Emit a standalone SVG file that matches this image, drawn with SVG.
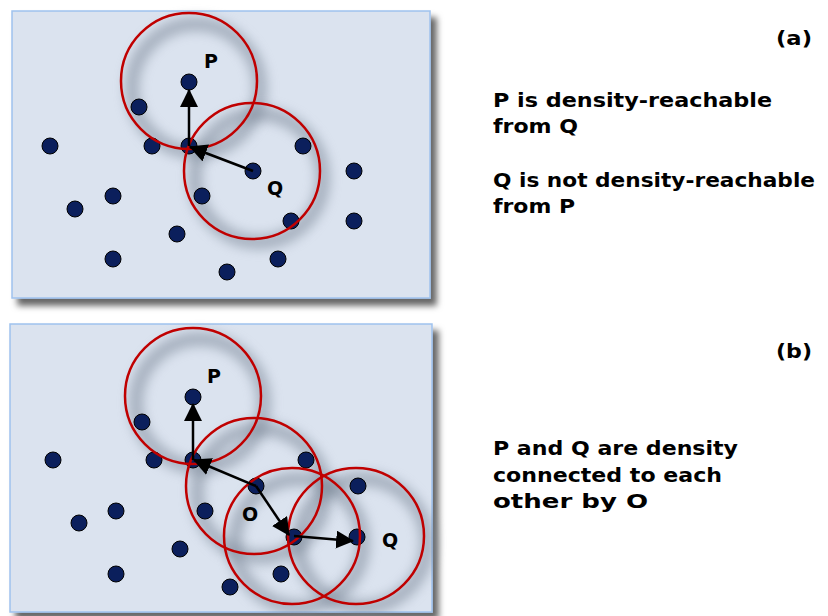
<svg xmlns="http://www.w3.org/2000/svg" width="828" height="616" viewBox="0 0 828 616">
<defs>
<filter id="panelShadow" x="-10%" y="-10%" width="125%" height="130%">
<feDropShadow dx="6" dy="7" stdDeviation="3" flood-color="#000" flood-opacity="0.6"/>
</filter>
<filter id="haze" x="-40%" y="-40%" width="180%" height="180%">
<feGaussianBlur stdDeviation="6"/>
</filter>
<marker id="ah" markerUnits="userSpaceOnUse" markerWidth="18" markerHeight="18" viewBox="0 0 16 16" refX="15" refY="8" orient="auto">
<path d="M0,0 L16,8 L0,16 z" fill="#000"/>
</marker>
<style>
.panel{fill:#dbe3ef;stroke:#9fc2ee;stroke-width:1.5;filter:url(#panelShadow)}
.dot{fill:#0b1f5c;stroke:#000;stroke-width:1}
.ring{fill:none;stroke:#c00000;stroke-width:2.5}
.hz{fill:none;stroke:#7a8696;stroke-width:14;opacity:0.55;filter:url(#haze)}
.arr{stroke:#000;stroke-width:2.5;fill:none;marker-end:url(#ah)}
.lbl{font-family:"DejaVu Sans","Verdana",sans-serif;font-weight:bold;font-size:19px;fill:#000}
.txt{font-family:"DejaVu Sans","Verdana",sans-serif;font-weight:bold;font-size:20px;fill:#000}
</style>
</defs>

<g id="panel-a">
<rect class="panel" x="12" y="11" width="418" height="287"/>
</g>
<g id="panel-b">
<rect class="panel" x="10" y="324" width="422" height="288"/>
</g>

<g id="haze-a">
<circle class="hz" cx="196" cy="88" r="64"/>
<circle class="hz" cx="259" cy="178" r="64"/>
</g>
<g id="haze-b">
<circle class="hz" cx="200" cy="403" r="64"/>
<circle class="hz" cx="261" cy="493" r="64"/>
<circle class="hz" cx="299" cy="543" r="64"/>
<circle class="hz" cx="363" cy="543" r="64"/>
</g>

<g id="points-a">
<g id="a-P"><circle class="dot" cx="189" cy="82" r="8"/></g>
<g id="a-p2"><circle class="dot" cx="139" cy="107" r="8"/></g>
<g id="a-p3"><circle class="dot" cx="50" cy="146" r="8"/></g>
<g id="a-p4"><circle class="dot" cx="152" cy="146" r="8"/></g>
<g id="a-core"><circle class="dot" cx="189" cy="146" r="8"/></g>
<g id="a-p6"><circle class="dot" cx="303" cy="146" r="8"/></g>
<g id="a-Q"><circle class="dot" cx="253" cy="171" r="8"/></g>
<g id="a-p8"><circle class="dot" cx="354" cy="171" r="8"/></g>
<g id="a-p9"><circle class="dot" cx="113" cy="196" r="8"/></g>
<g id="a-p10"><circle class="dot" cx="75" cy="209" r="8"/></g>
<g id="a-p11"><circle class="dot" cx="202" cy="196" r="8"/></g>
<g id="a-p12"><circle class="dot" cx="291" cy="221" r="8"/></g>
<g id="a-p13"><circle class="dot" cx="354" cy="221" r="8"/></g>
<g id="a-p14"><circle class="dot" cx="177" cy="234" r="8"/></g>
<g id="a-p15"><circle class="dot" cx="113" cy="259" r="8"/></g>
<g id="a-p16"><circle class="dot" cx="278" cy="259" r="8"/></g>
<g id="a-p17"><circle class="dot" cx="227" cy="272" r="8"/></g>
</g>

<g id="points-b">
<g id="b-P"><circle class="dot" cx="193" cy="397" r="8"/></g>
<g id="b-p2"><circle class="dot" cx="142" cy="422" r="8"/></g>
<g id="b-p3"><circle class="dot" cx="53" cy="460" r="8"/></g>
<g id="b-p4"><circle class="dot" cx="154" cy="460" r="8"/></g>
<g id="b-core"><circle class="dot" cx="193" cy="460" r="8"/></g>
<g id="b-p6"><circle class="dot" cx="306" cy="460" r="8"/></g>
<g id="b-O"><circle class="dot" cx="256" cy="486" r="8"/></g>
<g id="b-p8"><circle class="dot" cx="358" cy="486" r="8"/></g>
<g id="b-p9"><circle class="dot" cx="116" cy="511" r="8"/></g>
<g id="b-p10"><circle class="dot" cx="79" cy="523" r="8"/></g>
<g id="b-p11"><circle class="dot" cx="205" cy="511" r="8"/></g>
<g id="b-mid"><circle class="dot" cx="294" cy="537" r="8"/></g>
<g id="b-Q"><circle class="dot" cx="357" cy="537" r="8"/></g>
<g id="b-p14"><circle class="dot" cx="180" cy="549" r="8"/></g>
<g id="b-p15"><circle class="dot" cx="116" cy="574" r="8"/></g>
<g id="b-p16"><circle class="dot" cx="281" cy="574" r="8"/></g>
<g id="b-p17"><circle class="dot" cx="230" cy="587" r="8"/></g>
</g>

<g id="rings-a">
<circle class="ring" cx="189" cy="81" r="68"/>
<circle class="ring" cx="252" cy="171" r="68"/>
</g>
<g id="rings-b">
<circle class="ring" cx="193" cy="396" r="68"/>
<circle class="ring" cx="254" cy="486" r="68"/>
<circle class="ring" cx="292" cy="536" r="68"/>
<circle class="ring" cx="356" cy="536" r="68"/>
</g>

<g id="connectors">
<line class="arr" x1="189" y1="146" x2="189" y2="90"/>
<line class="arr" x1="253" y1="171" x2="190" y2="147"/>
<line class="arr" x1="193" y1="460" x2="193" y2="404"/>
<line class="arr" x1="256" y1="486" x2="194" y2="460"/>
<line class="arr" x1="256" y1="486" x2="289" y2="535"/>
<line class="arr" x1="294" y1="536" x2="353" y2="541"/>
</g>

<g id="labels">
<text class="lbl" x="211" y="68" text-anchor="middle">P</text>
<text class="lbl" x="275" y="195" text-anchor="middle">Q</text>
<text class="lbl" x="214" y="383" text-anchor="middle">P</text>
<text class="lbl" x="250" y="521" text-anchor="middle">O</text>
<text class="lbl" x="390" y="547" text-anchor="middle">Q</text>
</g>

<g id="caption-a">
<text class="txt" x="776" y="45" textLength="36" lengthAdjust="spacingAndGlyphs">(a)</text>
<text class="txt" x="493" y="107" textLength="279" lengthAdjust="spacingAndGlyphs">P is density-reachable</text>
<text class="txt" x="493" y="133" textLength="85" lengthAdjust="spacingAndGlyphs">from Q</text>
<text class="txt" x="493" y="187" textLength="322" lengthAdjust="spacingAndGlyphs">Q is not density-reachable</text>
<text class="txt" x="493" y="213" textLength="82" lengthAdjust="spacingAndGlyphs">from P</text>
</g>
<g id="caption-b">
<text class="txt" x="776" y="358" textLength="36" lengthAdjust="spacingAndGlyphs">(b)</text>
<text class="txt" x="493" y="455" textLength="245" lengthAdjust="spacingAndGlyphs">P and Q are density</text>
<text class="txt" x="493" y="482" textLength="229" lengthAdjust="spacingAndGlyphs">connected to each</text>
<text class="txt" x="493" y="508" textLength="155" lengthAdjust="spacingAndGlyphs">other by O</text>
</g>
</svg>
